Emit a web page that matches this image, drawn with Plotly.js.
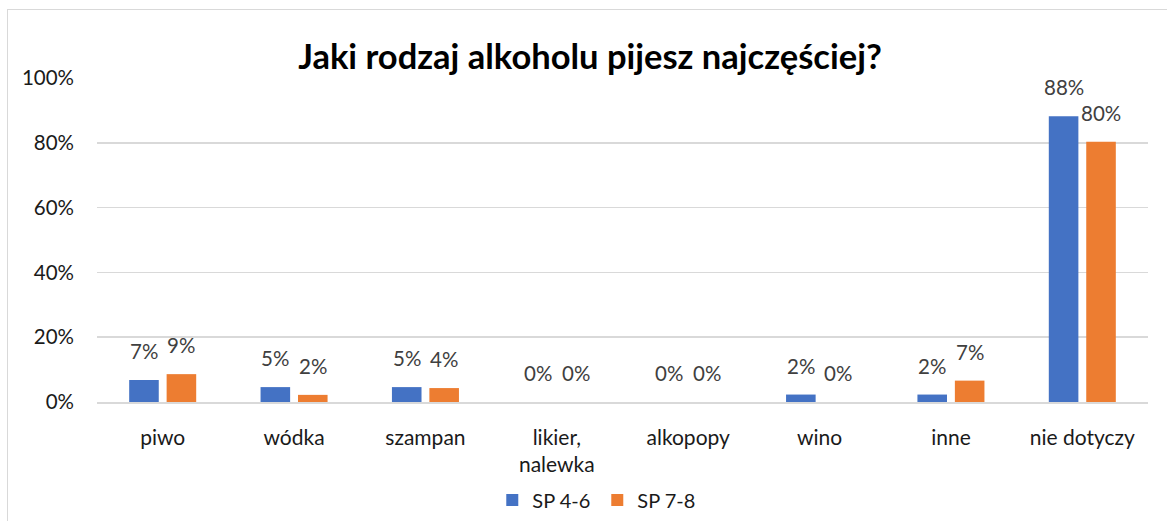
<!DOCTYPE html>
<html>
<head>
<meta charset="utf-8">
<script src="https://cdn.plot.ly/plotly-3.0.1.min.js"></script>
<style>
  html, body { margin: 0; padding: 0; background: #fff; }
  #wrap { position: relative; width: 1167px; height: 521px; }
  #chart { width: 1167px; height: 521px; }
  #frame { position: absolute; left: 7px; top: 9px; width: 1180px; height: 530px;
           border-left: 1.5px solid #d9d9d9; border-top: 1.5px solid #d9d9d9; pointer-events: none; }
</style>
</head>
<body>
<div id="wrap"><div id="chart"></div><div id="frame"></div></div>
<script>
const categories = ['piwo', 'wódka', 'szampan', 'likier,<br>nalewka', 'alkopopy', 'wino', 'inne', 'nie dotyczy'];
const seriesNames = ['SP 4-6', 'SP 7-8'];
const sp46 = [0.068, 0.046, 0.046, 0, 0, 0.023, 0.023, 0.882];
const sp78 = [0.086, 0.022, 0.043, 0, 0, 0, 0.066, 0.803];
const yTicks = [0, 0.2, 0.4, 0.6, 0.8, 1.0];

const colors = ['#4472C4', '#ED7D31'];
const W = 1167, H = 521;
const margin = {l: 97, r: 19, t: 78, b: 119};
const bargap = 0.43;
const plotW = W - margin.l - margin.r;
const slot = plotW / categories.length * (1 - bargap) / 2;

const FONT = 'Lato, "Open Sans", sans-serif';

const traces = [sp46, sp78].map((vals, i) => ({
  type: 'bar',
  name: seriesNames[i],
  x: categories,
  y: vals,
  marker: {color: colors[i]},
  hoverinfo: 'skip'
}));

const annotations = [];
[sp46, sp78].forEach((vals, i) => {
  vals.forEach((v, j) => {
    annotations.push({
      x: categories[j], y: v, xref: 'x', yref: 'y',
      text: Math.round(v * 100) + '%',
      showarrow: false,
      xanchor: 'center', yanchor: 'bottom',
      xshift: (i === 0 ? -1 : 1) * slot / 2,
      yshift: 15,
      font: {family: FONT, size: 20.5, color: '#404040'}
    });
  });
});

const layout = {
  width: W, height: H,
  margin: Object.assign({autoexpand: false}, margin),
  paper_bgcolor: 'rgba(0,0,0,0)',
  plot_bgcolor: '#fff',
  barmode: 'group',
  bargap: bargap,
  bargroupgap: 0.21,
  title: {
    text: '<b>Jaki rodzaj alkoholu pijesz najczęściej?</b>',
    font: {family: FONT, size: 34.5, color: '#000'},
    x: 590 / W, xref: 'container', xanchor: 'center',
    y: 1 - 57 / H, yref: 'container', yanchor: 'middle'
  },
  xaxis: {
    type: 'category',
    showgrid: false,
    showline: true, linecolor: '#d9d9d9', linewidth: 1.5,
    ticks: '',
    tickfont: {family: FONT, size: 21, color: '#1a1a1a'},
    ticklabelstandoff: 16,
    fixedrange: true
  },
  yaxis: {
    range: [0, 1.0],
    tickvals: yTicks,
    tickformat: '.0%',
    showgrid: true, gridcolor: '#d9d9d9', gridwidth: 1.5,
    zeroline: false,
    showline: false,
    ticks: '',
    tickfont: {family: FONT, size: 20.5, color: '#1a1a1a'},
    ticklabelstandoff: 22,
    fixedrange: true
  },
  legend: {
    orientation: 'h',
    x: 0.476, xanchor: 'center',
    y: 1 - 500 / H, yref: 'container', yanchor: 'middle',
    font: {family: FONT, size: 20, color: '#1a1a1a'},
    itemwidth: 30,
    entrywidth: 60,
    entrywidthmode: 'pixels',
    tracegroupgap: 0
  },
  annotations: annotations,
  showlegend: true
};

Plotly.newPlot('chart', traces, layout, {displayModeBar: false, staticPlot: true});
</script>
</body>
</html>
